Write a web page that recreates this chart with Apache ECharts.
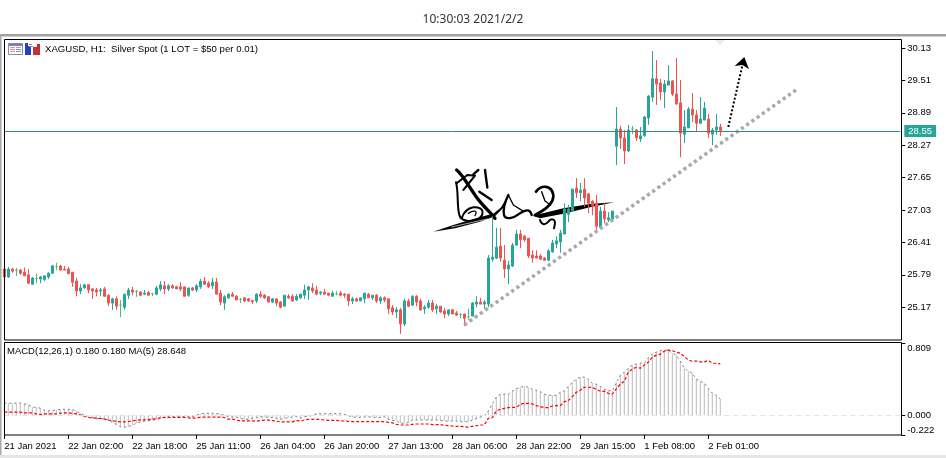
<!DOCTYPE html>
<html><head><meta charset="utf-8">
<style>html,body{margin:0;padding:0;background:#fff}#c{width:946px;height:458px}</style>
<script src="https://cdn.jsdelivr.net/npm/echarts@6/dist/echarts.min.js"></script></head>
<body><div id="c"></div>
<script>
const opens=[25.90,25.75,25.90,25.88,25.88,25.84,25.79,25.61,25.72,25.71,25.70,25.75,25.82,25.95,25.96,25.90,25.90,25.84,25.67,25.48,25.54,25.60,25.52,25.50,25.48,25.52,25.40,25.25,25.33,25.21,25.17,25.40,25.50,25.47,25.46,25.42,25.45,25.43,25.42,25.52,25.58,25.52,25.58,25.56,25.56,25.56,25.40,25.54,25.50,25.56,25.67,25.63,25.58,25.65,25.44,25.25,25.35,25.42,25.38,25.32,25.35,25.33,25.30,25.29,25.42,25.40,25.37,25.27,25.33,25.27,25.19,25.38,25.38,25.31,25.35,25.40,25.50,25.54,25.50,25.44,25.46,25.44,25.38,25.42,25.44,25.42,25.42,25.29,25.33,25.29,25.33,25.42,25.35,25.40,25.29,25.35,25.33,25.16,25.08,25.12,24.85,25.29,25.21,25.38,25.29,25.14,25.17,25.25,25.14,25.19,25.10,25.04,25.12,25.06,25.03,25.04,24.99,25.00,25.23,25.27,25.23,25.23,26.09,26.11,26.34,26.07,25.90,25.96,26.36,26.57,26.53,26.49,26.17,26.15,26.15,26.11,26.07,26.23,26.38,26.42,26.57,26.95,27.01,27.45,27.36,27.43,27.34,27.20,27.16,26.70,27.01,26.84,26.86,28.25,28.58,28.41,28.16,28.58,28.56,28.39,28.45,28.79,29.19,29.54,29.46,29.29,29.42,29.50,29.25,29.08,28.48,28.60,28.96,28.85,28.69,28.75,28.77,28.48,28.56,28.62];
const closes=[25.75,25.90,25.86,25.88,25.82,25.77,25.63,25.73,25.72,25.75,25.77,25.82,25.96,25.95,25.88,25.88,25.81,25.65,25.48,25.54,25.60,25.50,25.48,25.46,25.50,25.38,25.25,25.33,25.19,25.21,25.42,25.50,25.46,25.47,25.40,25.44,25.40,25.43,25.54,25.60,25.52,25.58,25.54,25.52,25.52,25.38,25.54,25.50,25.58,25.67,25.61,25.56,25.65,25.42,25.27,25.37,25.42,25.38,25.31,25.32,25.29,25.29,25.28,25.42,25.38,25.35,25.27,25.33,25.25,25.17,25.40,25.35,25.29,25.38,25.42,25.50,25.56,25.48,25.42,25.46,25.42,25.40,25.44,25.42,25.40,25.40,25.29,25.33,25.29,25.35,25.44,25.35,25.40,25.29,25.35,25.31,25.14,25.08,25.12,24.85,25.29,25.19,25.38,25.27,25.12,25.17,25.25,25.12,25.19,25.08,25.04,25.12,25.04,25.02,25.03,24.96,24.99,25.25,25.27,25.23,25.27,26.11,26.13,26.32,26.11,25.90,25.98,26.36,26.57,26.46,26.46,26.15,26.11,26.11,26.09,26.07,26.25,26.40,26.44,26.59,27.05,27.05,27.43,27.36,27.41,27.26,27.16,27.11,26.72,27.01,26.86,26.88,27.01,28.58,28.41,28.16,28.56,28.58,28.41,28.45,28.81,29.21,29.54,29.44,29.29,29.44,29.50,29.25,29.06,28.50,28.62,28.96,28.85,28.69,28.77,28.98,28.50,28.56,28.62,28.55];
const lows=[25.75,25.73,25.83,25.77,25.79,25.77,25.61,25.60,25.63,25.63,25.67,25.71,25.81,25.88,25.88,25.88,25.81,25.56,25.38,25.42,25.52,25.44,25.33,25.38,25.38,25.37,25.19,25.12,25.12,24.98,25.12,25.33,25.40,25.37,25.38,25.40,25.40,25.38,25.40,25.48,25.42,25.48,25.52,25.52,25.48,25.38,25.37,25.48,25.46,25.52,25.60,25.54,25.52,25.42,25.21,25.12,25.33,25.37,25.31,25.25,25.27,25.27,25.23,25.25,25.35,25.33,25.27,25.25,25.19,25.15,25.19,25.33,25.27,25.29,25.33,25.33,25.31,25.44,25.40,25.40,25.42,25.38,25.38,25.40,25.38,25.35,25.19,25.23,25.27,25.29,25.25,25.35,25.31,25.25,25.23,25.27,25.04,25.02,24.96,24.66,24.81,25.17,25.19,25.19,25.10,25.04,25.14,25.08,25.04,25.06,24.96,25.00,25.04,25.00,24.96,24.81,24.93,25.00,25.17,25.23,25.14,25.17,26.04,26.09,26.04,25.73,25.61,25.94,26.34,26.30,26.42,26.11,26.02,26.11,26.07,26.06,26.06,26.21,26.30,26.21,26.57,26.80,26.99,27.26,27.20,27.09,26.97,26.93,26.63,26.69,26.78,26.80,26.84,27.89,28.20,27.91,28.14,28.48,28.35,28.33,28.43,28.66,29.10,29.04,29.13,28.98,29.42,29.21,29.04,28.04,28.31,28.60,28.71,28.54,28.69,28.75,28.41,28.27,28.47,28.45];
const highs=[25.90,25.94,25.92,25.92,25.90,25.93,25.90,25.75,25.81,25.77,25.77,25.84,25.98,26.02,25.98,25.96,25.94,25.84,25.73,25.61,25.61,25.60,25.54,25.54,25.54,25.56,25.42,25.35,25.38,25.31,25.42,25.54,25.56,25.50,25.48,25.50,25.48,25.44,25.58,25.67,25.67,25.61,25.61,25.58,25.65,25.56,25.54,25.56,25.61,25.71,25.75,25.67,25.73,25.73,25.50,25.40,25.44,25.46,25.40,25.35,25.35,25.35,25.31,25.44,25.48,25.42,25.38,25.35,25.33,25.29,25.40,25.42,25.42,25.42,25.43,25.60,25.58,25.63,25.58,25.48,25.52,25.44,25.48,25.48,25.48,25.44,25.42,25.37,25.35,25.35,25.44,25.44,25.40,25.42,25.38,25.38,25.33,25.21,25.17,25.16,25.33,25.33,25.40,25.40,25.33,25.21,25.31,25.31,25.23,25.19,25.16,25.12,25.14,25.10,25.06,25.04,25.14,25.27,25.38,25.35,25.31,26.17,26.91,26.69,26.69,26.36,26.06,26.40,26.65,26.65,26.55,26.49,26.26,26.26,26.19,26.13,26.28,26.46,26.53,26.65,27.16,27.13,27.43,27.64,27.55,27.64,27.36,27.22,27.32,27.09,27.16,26.99,27.01,29.00,28.64,28.56,28.66,28.64,28.58,28.62,28.83,29.23,30.07,29.90,29.54,29.52,29.80,29.52,29.94,29.52,28.94,29.00,29.27,28.94,29.19,29.10,28.87,28.60,28.87,28.68];
const macdHist=[0.135,0.135,0.135,0.135,0.135,0.127,0.116,0.094,0.086,0.079,0.056,0.049,0.052,0.060,0.064,0.067,0.067,0.064,0.045,0.022,0.002,-0.011,-0.030,-0.037,-0.041,-0.037,-0.052,-0.079,-0.105,-0.127,-0.135,-0.127,-0.112,-0.090,-0.075,-0.067,-0.064,-0.056,-0.049,-0.037,-0.022,-0.015,-0.015,-0.015,-0.015,-0.015,-0.015,-0.022,0.000,0.015,0.022,0.022,0.022,0.019,0.011,0.000,-0.015,-0.019,-0.022,-0.034,-0.045,-0.045,-0.037,-0.026,-0.019,-0.019,-0.022,-0.026,-0.037,-0.045,-0.037,-0.026,-0.022,-0.015,-0.035,-0.017,-0.009,-0.005,0.017,0.017,0.017,0.015,0.017,0.017,0.017,0.010,-0.005,-0.020,-0.024,-0.024,-0.020,-0.020,-0.020,-0.028,-0.024,-0.017,-0.046,-0.061,-0.058,-0.091,-0.091,-0.084,-0.054,-0.054,-0.054,-0.054,-0.054,-0.054,-0.054,-0.061,-0.061,-0.069,-0.065,-0.065,-0.073,-0.073,-0.073,-0.054,-0.039,-0.024,-0.009,0.047,0.126,0.201,0.235,0.235,0.235,0.272,0.295,0.313,0.324,0.313,0.291,0.280,0.265,0.235,0.223,0.223,0.223,0.257,0.272,0.321,0.369,0.403,0.426,0.426,0.403,0.358,0.347,0.324,0.291,0.280,0.268,0.369,0.448,0.482,0.527,0.561,0.572,0.583,0.583,0.643,0.684,0.707,0.722,0.729,0.729,0.695,0.673,0.605,0.527,0.493,0.471,0.403,0.381,0.358,0.302,0.246,0.223,0.180];
const macdSignal=[0.034,0.034,0.034,0.034,0.034,0.026,0.026,0.026,0.015,0.007,0.015,0.015,0.015,0.015,0.022,0.026,0.026,0.019,0.015,0.000,-0.015,-0.026,-0.030,-0.034,-0.037,-0.045,-0.056,-0.060,-0.071,-0.075,-0.075,-0.071,-0.064,-0.056,-0.052,-0.052,-0.049,-0.045,-0.037,-0.030,-0.026,-0.026,-0.026,-0.026,-0.026,-0.026,-0.030,-0.034,-0.034,-0.022,-0.022,-0.022,-0.022,-0.022,-0.022,-0.026,-0.045,-0.045,-0.052,-0.064,-0.064,-0.064,-0.064,-0.067,-0.060,-0.056,-0.056,-0.060,-0.067,-0.075,-0.075,-0.075,-0.075,-0.060,-0.065,-0.054,-0.046,-0.046,-0.046,-0.046,-0.054,-0.058,-0.058,-0.058,-0.062,-0.065,-0.070,-0.073,-0.073,-0.073,-0.073,-0.073,-0.073,-0.073,-0.073,-0.073,-0.080,-0.084,-0.103,-0.110,-0.110,-0.110,-0.103,-0.099,-0.099,-0.099,-0.099,-0.106,-0.106,-0.106,-0.114,-0.118,-0.121,-0.125,-0.125,-0.129,-0.133,-0.125,-0.118,-0.110,-0.110,-0.035,-0.028,0.047,0.066,0.077,0.085,0.088,0.088,0.121,0.133,0.133,0.126,0.107,0.096,0.085,0.085,0.103,0.107,0.107,0.152,0.163,0.208,0.257,0.280,0.313,0.313,0.310,0.291,0.268,0.268,0.246,0.235,0.295,0.347,0.381,0.482,0.516,0.538,0.527,0.561,0.594,0.650,0.673,0.684,0.718,0.729,0.722,0.707,0.695,0.658,0.620,0.605,0.605,0.598,0.598,0.613,0.583,0.579,0.575];
const priceTicks=[25.17,25.79,26.41,27.03,27.65,28.27,28.89,29.51,30.13];
const macdTicks=[-0.222,0,0.809];
const timeLabels=["21 Jan 2021","22 Jan 02:00","22 Jan 18:00","25 Jan 11:00","26 Jan 04:00","26 Jan 20:00","27 Jan 13:00","28 Jan 06:00","28 Jan 22:00","29 Jan 15:00","1 Feb 08:00","2 Feb 01:00"];
const labelEvery=16, slots=225;
const lastPrice=28.54;
const lastPriceLabel="28.55";
const trendLine=[[115,24.83],[198,29.33]];
const arrowLine=[[181,28.62],[185,29.96]];
const titleText="10:30:03 2021/2/2";
const headerText="XAGUSD, H1:  Silver Spot (1 LOT = $50 per 0.01)";
const macdText="MACD(12,26,1) 0.180 0.180 MA(5) 28.648";

const FONT='"Liberation Sans"';
const AXF=9.5;
const cats=Array.from({length:slots},(_,i)=>String(i));
const tickIdx=timeLabels.map((_,i)=>i*labelEvery);
const candles=opens.map((o,i)=>[o,closes[i],lows[i],highs[i]]);
const L=4.3,W=896;
const chart=echarts.init(document.getElementById('c'),null,{renderer:'canvas'});
const r=(x,y,w,h,f)=>({type:'rect',shape:{x,y,width:w,height:h},style:{fill:f},silent:true});
let shapeN=0;
const pathShape=(d)=>{const name='sigPath'+(shapeN++);echarts.graphic.registerShape(name,echarts.graphic.extendPath(d,{}));return name;};
const ink=(d,w,c)=>({type:pathShape(d),shape:{},style:{fill:null,stroke:c||'#000',lineWidth:w,lineCap:'round',lineJoin:'round'},silent:true});
const blob=(d)=>({type:pathShape(d),shape:{},style:{fill:'#000',stroke:null},silent:true});
chart.setOption({
 animation:false,backgroundColor:'#fff',
 title:{text:titleText,left:'center',top:9,textStyle:{fontFamily:'"Noto Sans"',fontSize:12,fontWeight:'normal',color:'#333'}},
 grid:[{left:L,width:W,top:40,height:300,show:false},{left:L,width:W,top:343,height:92,show:false}],
 xAxis:[
  {gridIndex:0,type:'category',data:cats,boundaryGap:false,axisLine:{show:false,onZero:false},axisTick:{show:false},axisLabel:{show:false},splitLine:{show:false}},
  {gridIndex:1,type:'category',data:cats,boundaryGap:false,position:'bottom',axisLine:{show:false,onZero:false},
   axisTick:{show:true,length:4,customValues:tickIdx,lineStyle:{color:'#000'}},
   axisLabel:{show:true,customValues:tickIdx,align:'left',margin:6,fontFamily:FONT,fontSize:AXF,color:'#000',
    formatter:(v)=>timeLabels[Number(v)/labelEvery]||''},splitLine:{show:false}}
 ],
 yAxis:[
  {gridIndex:0,type:'value',position:'right',offset:1,min:24.543,max:30.283,splitLine:{show:false},axisLine:{show:false},
   axisTick:{show:true,length:4,customValues:priceTicks,lineStyle:{color:'#000'}},
   axisLabel:{show:true,customValues:priceTicks,margin:6,fontFamily:FONT,fontSize:AXF,color:'#000',formatter:v=>Number(v).toFixed(2)}},
  {gridIndex:1,type:'value',position:'right',offset:1,min:-0.222,max:0.809,splitLine:{show:false},axisLine:{show:false},
   axisTick:{show:true,length:4,customValues:macdTicks,lineStyle:{color:'#000'}},
   axisLabel:{show:true,customValues:macdTicks,margin:6,fontFamily:FONT,fontSize:AXF,color:'#000',verticalAlignMaxLabel:'top',verticalAlignMinLabel:'bottom',formatter:v=>Number(v).toFixed(3)}}
 ],
 series:[
  {type:'candlestick',xAxisIndex:0,yAxisIndex:0,data:candles,barWidth:3,z:3,
   itemStyle:{color:'#26a69a',color0:'#ef5350',borderColor:'#26a69a',borderColor0:'#ef5350',borderColorDoji:'#4cbb7f',borderWidth:1},
   markLine:{silent:true,animation:false,symbol:['none','none'],z:5,label:{show:false},
    data:[
     [{coord:trendLine[0],lineStyle:{color:'#a9a9a9',width:3.5,type:[3.2,3.2]}},{coord:trendLine[1]}],
     [{coord:arrowLine[0],lineStyle:{color:'#000',width:2,type:[2,2]}},{coord:arrowLine[1],symbol:'arrow',symbolSize:11}],
     {yAxis:lastPrice,lineStyle:{color:'#2a8f84',width:1,type:'solid'},
      label:{show:true,position:'end',distance:4,formatter:lastPriceLabel,color:'#fff',backgroundColor:'#26a69a',padding:[1,4],fontFamily:FONT,fontSize:AXF}}
    ]}},
  {type:'bar',xAxisIndex:1,yAxisIndex:1,data:macdHist,barWidth:1,itemStyle:{color:'#bcbcbc'},z:2,
   markLine:{silent:true,animation:false,symbol:'none',label:{show:false},lineStyle:{color:'#e4e4e4',width:1,type:[5,4]},data:[{yAxis:0}]}},
  {type:'line',xAxisIndex:1,yAxisIndex:1,data:macdHist,showSymbol:false,lineStyle:{color:'#7a7a7a',width:1,type:[2,3]},z:3},
  {type:'line',xAxisIndex:1,yAxisIndex:1,data:macdSignal,showSymbol:false,lineStyle:{color:'#ff0000',width:1.2,type:[3,2]},z:4}
 ],
 graphic:{elements:[
  r(0,34,946,2.5,'#a0a0a0'),r(0,34,1.5,424,'#a8a8a8'),r(0,455,946,3,'#e6e6e6'),
  {type:'rect',shape:{x:4.5,y:39.5,width:897,height:300.5},style:{fill:null,stroke:'#000',lineWidth:1},silent:true,z:50},
  {type:'rect',shape:{x:4.5,y:342.5,width:897,height:92.5},style:{fill:null,stroke:'#000',lineWidth:1},silent:true,z:50},
  {type:'text',x:45,y:44.5,z:60,silent:true,style:{text:headerText,fontFamily:FONT,fontSize:9.6,fill:'#000'}},
  {type:'text',x:7,y:346.5,z:60,silent:true,style:{text:macdText,fontFamily:FONT,fontSize:9.5,fill:'#000'}},
  {type:'group',z:60,silent:true,children:[
   {type:'rect',shape:{x:8.5,y:43.5,width:14,height:11},style:{fill:'#fff',stroke:'#8a8a9a',lineWidth:1}},
   r(9,44,13,2,'#6a80d8'),r(10,47,5,1,'#e89090'),r(16,47,5,1,'#e89090'),r(10,49,5,1,'#e89090'),r(16,49,5,1,'#8090d8'),r(10,51,5,1,'#e89090'),r(16,51,5,1,'#8090d8'),
   r(25,46,6,9,'#2040c8'),r(25,43,3,4,'#2040c8'),r(33,47,7,8,'#c83030'),r(37,44,3,4,'#c83030'),r(29,44,3,1,'#909090'),r(29,46,4,1,'#909090')
  ]},
  {type:'polygon',z:60,silent:true,shape:{points:[[715,40],[725,40],[720,45]]},style:{fill:'#ececec'}},
  {type:'group',x:430,y:165,scaleX:1/3,scaleY:1/3,z:80,silent:true,children:[
   ink('M80,15 C100,30 125,80 150,110 S185,145 195,160',10),
   ink('M78,52 C86,80 80,120 88,150 C92,168 125,175 148,160 C165,145 160,125 130,127 C112,130 100,145 95,160',6),
   ink('M80,55 L112,30 L135,32 L100,75',6),
   ink('M130,28 L145,15 M165,15 L172,68 M148,80 L185,105',7),
   ink('M115,145 C130,135 145,135 135,152',4),
   blob('M10,200 L70,180 L150,156 L190,146 L212,128 L238,86 L224,124 L195,154 L150,170 L75,190 Z'),
   ink('M65,186 L172,162',2,'#fff'),
   ink('M235,90 C225,110 218,130 222,150 C226,166 250,160 270,145 C285,135 300,130 305,150',7),
   ink('M235,90 L250,120 L282,140',4),
   ink('M318,80 C335,58 365,60 370,90 C372,115 345,135 315,150',8),
   ink('M335,80 L345,108 L362,120',4),
   blob('M308,152 L400,130 L480,117 L552,112 L480,127 L400,146 L330,160 Z'),
   ink('M330,165 C335,180 345,182 355,170 C362,160 375,160 375,175 L372,190',6)
  ]}
 ]}
});
</script></body></html>
